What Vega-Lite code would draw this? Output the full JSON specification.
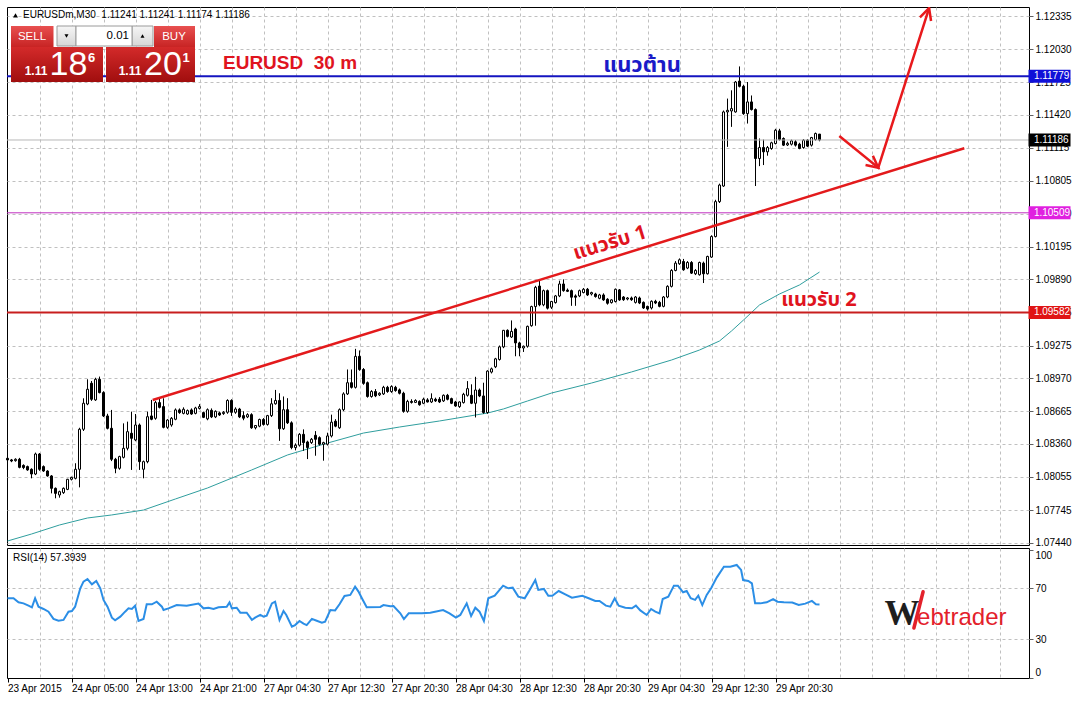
{
  "$schema": "https://vega.github.io/schema/vega-lite/v6.json",
  "background": "white",
  "padding": {"left": 5, "top": 6, "right": 0, "bottom": 0},
  "spacing": 3,
  "bounds": "flush",
  "config": {
    "view": {"stroke": "black", "strokeWidth": 1, "fill": "white"},
    "scale": {"continuousPadding": 0},
    "axis": {"labelFont": "Liberation Sans", "labelFontSize": 10, "labelColor": "black", "domain": false, "labelOverlap": false, "labelSeparation": 0},
    "text": {"font": "Liberation Sans"}
  },
  "datasets": {
    "candles": [
      {"i":0,"o":1.08226,"h":1.08235,"l":1.08195,"c":1.08211},
      {"i":1,"o":1.08211,"h":1.0822,"l":1.0819,"c":1.08201},
      {"i":2,"o":1.08204,"h":1.08226,"l":1.08195,"c":1.08217},
      {"i":3,"o":1.08217,"h":1.0823,"l":1.08133,"c":1.08142},
      {"i":4,"o":1.0816,"h":1.0817,"l":1.08125,"c":1.0814},
      {"i":5,"o":1.08149,"h":1.08158,"l":1.0811,"c":1.08118},
      {"i":6,"o":1.08124,"h":1.08133,"l":1.0804,"c":1.0808},
      {"i":7,"o":1.0808,"h":1.08279,"l":1.0807,"c":1.08266},
      {"i":8,"o":1.08266,"h":1.08275,"l":1.0811,"c":1.08124},
      {"i":9,"o":1.08149,"h":1.0816,"l":1.081,"c":1.08108},
      {"i":10,"o":1.08108,"h":1.08115,"l":1.08055,"c":1.08062},
      {"i":11,"o":1.08062,"h":1.0807,"l":1.079,"c":1.07947},
      {"i":12,"o":1.07947,"h":1.07955,"l":1.07854,"c":1.079},
      {"i":13,"o":1.07885,"h":1.07925,"l":1.0786,"c":1.07916},
      {"i":14,"o":1.07907,"h":1.07955,"l":1.07895,"c":1.07947},
      {"i":15,"o":1.07937,"h":1.08035,"l":1.0793,"c":1.08031},
      {"i":16,"o":1.08031,"h":1.08055,"l":1.0802,"c":1.08049},
      {"i":17,"o":1.0804,"h":1.0818,"l":1.0803,"c":1.08124},
      {"i":18,"o":1.08124,"h":1.0851,"l":1.07956,"c":1.08496},
      {"i":19,"o":1.08496,"h":1.08784,"l":1.0848,"c":1.08738},
      {"i":20,"o":1.08731,"h":1.08961,"l":1.0872,"c":1.08868},
      {"i":21,"o":1.08924,"h":1.08945,"l":1.0876,"c":1.08775},
      {"i":22,"o":1.08769,"h":1.08975,"l":1.0876,"c":1.08961},
      {"i":23,"o":1.08961,"h":1.08986,"l":1.0883,"c":1.08837},
      {"i":24,"o":1.08837,"h":1.0885,"l":1.0861,"c":1.0862},
      {"i":25,"o":1.0862,"h":1.0864,"l":1.08495,"c":1.08505},
      {"i":26,"o":1.08505,"h":1.08676,"l":1.082,"c":1.08217},
      {"i":27,"o":1.08217,"h":1.0823,"l":1.08087,"c":1.08133},
      {"i":28,"o":1.08133,"h":1.0825,"l":1.0812,"c":1.08242},
      {"i":29,"o":1.08235,"h":1.08551,"l":1.08225,"c":1.08319},
      {"i":30,"o":1.08319,"h":1.08567,"l":1.083,"c":1.08474},
      {"i":31,"o":1.08459,"h":1.0866,"l":1.08118,"c":1.08412},
      {"i":32,"o":1.08397,"h":1.08638,"l":1.08385,"c":1.08536},
      {"i":33,"o":1.08536,"h":1.0855,"l":1.08118,"c":1.08195},
      {"i":34,"o":1.08124,"h":1.08205,"l":1.0804,"c":1.08195},
      {"i":35,"o":1.08195,"h":1.0866,"l":1.0818,"c":1.08613},
      {"i":36,"o":1.0862,"h":1.08769,"l":1.0858,"c":1.08589},
      {"i":37,"o":1.08598,"h":1.0876,"l":1.08585,"c":1.08744},
      {"i":38,"o":1.08744,"h":1.08784,"l":1.0869,"c":1.087},
      {"i":39,"o":1.08707,"h":1.08784,"l":1.08505,"c":1.08514},
      {"i":40,"o":1.08514,"h":1.0859,"l":1.085,"c":1.08582},
      {"i":41,"o":1.08536,"h":1.0861,"l":1.0852,"c":1.08598},
      {"i":42,"o":1.08589,"h":1.0869,"l":1.0858,"c":1.08676},
      {"i":43,"o":1.08676,"h":1.0869,"l":1.0864,"c":1.08651},
      {"i":44,"o":1.08644,"h":1.087,"l":1.08635,"c":1.08682},
      {"i":45,"o":1.08638,"h":1.0868,"l":1.0863,"c":1.0867},
      {"i":46,"o":1.08676,"h":1.0869,"l":1.0863,"c":1.08638},
      {"i":47,"o":1.08644,"h":1.08705,"l":1.08635,"c":1.08694},
      {"i":48,"o":1.0869,"h":1.0873,"l":1.0868,"c":1.08707},
      {"i":49,"o":1.08651,"h":1.0866,"l":1.086,"c":1.08607},
      {"i":50,"o":1.08593,"h":1.0869,"l":1.0858,"c":1.08678},
      {"i":51,"o":1.08672,"h":1.0869,"l":1.086,"c":1.08611},
      {"i":52,"o":1.08611,"h":1.08672,"l":1.086,"c":1.08663},
      {"i":53,"o":1.08648,"h":1.0866,"l":1.0862,"c":1.08629},
      {"i":54,"o":1.08642,"h":1.08665,"l":1.0863,"c":1.08654},
      {"i":55,"o":1.08654,"h":1.08775,"l":1.0864,"c":1.08764},
      {"i":56,"o":1.08764,"h":1.08775,"l":1.0862,"c":1.08654},
      {"i":57,"o":1.08654,"h":1.087,"l":1.0864,"c":1.08684},
      {"i":58,"o":1.08684,"h":1.08695,"l":1.086,"c":1.08611},
      {"i":59,"o":1.08623,"h":1.08663,"l":1.0858,"c":1.08599},
      {"i":60,"o":1.08611,"h":1.08645,"l":1.086,"c":1.08632},
      {"i":61,"o":1.08632,"h":1.08645,"l":1.085,"c":1.0851},
      {"i":62,"o":1.0851,"h":1.08535,"l":1.08495,"c":1.08531},
      {"i":63,"o":1.08525,"h":1.08595,"l":1.08515,"c":1.08587},
      {"i":64,"o":1.08587,"h":1.086,"l":1.0853,"c":1.08541},
      {"i":65,"o":1.08541,"h":1.0863,"l":1.0853,"c":1.08623},
      {"i":66,"o":1.08623,"h":1.08785,"l":1.0861,"c":1.08733},
      {"i":67,"o":1.08733,"h":1.08862,"l":1.08725,"c":1.08764},
      {"i":68,"o":1.08764,"h":1.08831,"l":1.08388,"c":1.08501},
      {"i":69,"o":1.08501,"h":1.08801,"l":1.0849,"c":1.08678},
      {"i":70,"o":1.08678,"h":1.08785,"l":1.08545,"c":1.08556},
      {"i":71,"o":1.08556,"h":1.0857,"l":1.0831,"c":1.08326},
      {"i":72,"o":1.08326,"h":1.08365,"l":1.083,"c":1.08348},
      {"i":73,"o":1.08348,"h":1.0846,"l":1.08335,"c":1.08449},
      {"i":74,"o":1.08449,"h":1.08495,"l":1.08296,"c":1.08372},
      {"i":75,"o":1.08378,"h":1.0839,"l":1.08219,"c":1.08326},
      {"i":76,"o":1.08372,"h":1.08415,"l":1.0836,"c":1.08403},
      {"i":77,"o":1.0844,"h":1.08479,"l":1.0825,"c":1.08403},
      {"i":78,"o":1.08418,"h":1.0843,"l":1.08345,"c":1.08357},
      {"i":79,"o":1.08357,"h":1.0838,"l":1.08204,"c":1.08372},
      {"i":80,"o":1.08357,"h":1.08464,"l":1.08345,"c":1.08434},
      {"i":81,"o":1.08434,"h":1.08632,"l":1.0842,"c":1.08562},
      {"i":82,"o":1.08571,"h":1.0859,"l":1.08515,"c":1.08525},
      {"i":83,"o":1.0851,"h":1.0869,"l":1.085,"c":1.08678},
      {"i":84,"o":1.08678,"h":1.0884,"l":1.08665,"c":1.08825},
      {"i":85,"o":1.08825,"h":1.09052,"l":1.08815,"c":1.08929},
      {"i":86,"o":1.08929,"h":1.09052,"l":1.08875,"c":1.08886},
      {"i":87,"o":1.08886,"h":1.09244,"l":1.08875,"c":1.09174},
      {"i":88,"o":1.09174,"h":1.09229,"l":1.0904,"c":1.09052},
      {"i":89,"o":1.09052,"h":1.09065,"l":1.0891,"c":1.08923},
      {"i":90,"o":1.08929,"h":1.0894,"l":1.0879,"c":1.08801},
      {"i":91,"o":1.08801,"h":1.0886,"l":1.0879,"c":1.08847},
      {"i":92,"o":1.08847,"h":1.0887,"l":1.08795,"c":1.08807},
      {"i":93,"o":1.08816,"h":1.0884,"l":1.08805,"c":1.08831},
      {"i":94,"o":1.08825,"h":1.089,"l":1.08815,"c":1.08886},
      {"i":95,"o":1.08886,"h":1.089,"l":1.08835,"c":1.08847},
      {"i":96,"o":1.08847,"h":1.08905,"l":1.08835,"c":1.08893},
      {"i":97,"o":1.08886,"h":1.089,"l":1.08845,"c":1.08856},
      {"i":98,"o":1.08862,"h":1.08875,"l":1.0882,"c":1.08831},
      {"i":99,"o":1.08831,"h":1.08845,"l":1.0865,"c":1.08663},
      {"i":100,"o":1.08663,"h":1.0877,"l":1.0865,"c":1.08755},
      {"i":101,"o":1.08755,"h":1.08775,"l":1.08735,"c":1.08746},
      {"i":102,"o":1.08746,"h":1.08775,"l":1.0874,"c":1.08764},
      {"i":103,"o":1.08755,"h":1.08765,"l":1.08715,"c":1.08724},
      {"i":104,"o":1.08738,"h":1.0879,"l":1.0873,"c":1.08775},
      {"i":105,"o":1.08769,"h":1.08785,"l":1.08745,"c":1.0875},
      {"i":106,"o":1.0875,"h":1.0883,"l":1.0874,"c":1.08781},
      {"i":107,"o":1.08775,"h":1.0879,"l":1.0875,"c":1.0876},
      {"i":108,"o":1.08775,"h":1.08795,"l":1.0874,"c":1.0875},
      {"i":109,"o":1.0876,"h":1.0882,"l":1.0875,"c":1.08812},
      {"i":110,"o":1.08812,"h":1.08825,"l":1.08765,"c":1.08775},
      {"i":111,"o":1.08781,"h":1.0879,"l":1.0873,"c":1.08738},
      {"i":112,"o":1.0875,"h":1.0876,"l":1.08705,"c":1.08713},
      {"i":113,"o":1.08707,"h":1.08755,"l":1.08695,"c":1.0875},
      {"i":114,"o":1.08744,"h":1.08835,"l":1.08735,"c":1.08821},
      {"i":115,"o":1.08812,"h":1.08944,"l":1.088,"c":1.08874},
      {"i":116,"o":1.08812,"h":1.08914,"l":1.0873,"c":1.08738},
      {"i":117,"o":1.08738,"h":1.08984,"l":1.08606,"c":1.08861},
      {"i":118,"o":1.08861,"h":1.08875,"l":1.08795,"c":1.08806},
      {"i":119,"o":1.08806,"h":1.08929,"l":1.0864,"c":1.08652},
      {"i":120,"o":1.08652,"h":1.09045,"l":1.0864,"c":1.09037},
      {"i":121,"o":1.09028,"h":1.0907,"l":1.09015,"c":1.09058},
      {"i":122,"o":1.09077,"h":1.0916,"l":1.09065,"c":1.09151},
      {"i":123,"o":1.09145,"h":1.09275,"l":1.09135,"c":1.09262},
      {"i":124,"o":1.09262,"h":1.0942,"l":1.0925,"c":1.09416},
      {"i":125,"o":1.09416,"h":1.09425,"l":1.0935,"c":1.0936},
      {"i":126,"o":1.09354,"h":1.09508,"l":1.09345,"c":1.09406},
      {"i":127,"o":1.09428,"h":1.0944,"l":1.09175,"c":1.09299},
      {"i":128,"o":1.09299,"h":1.0931,"l":1.09175,"c":1.09252},
      {"i":129,"o":1.09252,"h":1.09275,"l":1.09215,"c":1.09268},
      {"i":130,"o":1.09268,"h":1.0946,"l":1.09255,"c":1.09453},
      {"i":131,"o":1.09459,"h":1.09645,"l":1.0945,"c":1.09637},
      {"i":132,"o":1.09637,"h":1.0983,"l":1.09459,"c":1.09816},
      {"i":133,"o":1.09828,"h":1.09878,"l":1.0964,"c":1.09653},
      {"i":134,"o":1.09653,"h":1.09795,"l":1.0964,"c":1.09785},
      {"i":135,"o":1.09785,"h":1.09795,"l":1.0961,"c":1.09622},
      {"i":136,"o":1.09631,"h":1.0969,"l":1.09615,"c":1.09684},
      {"i":137,"o":1.09674,"h":1.09745,"l":1.09665,"c":1.09736},
      {"i":138,"o":1.09736,"h":1.09878,"l":1.09725,"c":1.09847},
      {"i":139,"o":1.09847,"h":1.0989,"l":1.09775,"c":1.09785},
      {"i":140,"o":1.0979,"h":1.09805,"l":1.09772,"c":1.09779},
      {"i":141,"o":1.09785,"h":1.09795,"l":1.09644,"c":1.09724},
      {"i":142,"o":1.09736,"h":1.0975,"l":1.09644,"c":1.09724},
      {"i":143,"o":1.09736,"h":1.09795,"l":1.09725,"c":1.09785},
      {"i":144,"o":1.09767,"h":1.0981,"l":1.0976,"c":1.09798},
      {"i":145,"o":1.09798,"h":1.0981,"l":1.09735,"c":1.09745},
      {"i":146,"o":1.09754,"h":1.09775,"l":1.0974,"c":1.09767},
      {"i":147,"o":1.09754,"h":1.09765,"l":1.0972,"c":1.0973},
      {"i":148,"o":1.09714,"h":1.09755,"l":1.09705,"c":1.09745},
      {"i":149,"o":1.09745,"h":1.0976,"l":1.0969,"c":1.09699},
      {"i":150,"o":1.09705,"h":1.09715,"l":1.09655,"c":1.09668},
      {"i":151,"o":1.09674,"h":1.09705,"l":1.09665,"c":1.09699},
      {"i":152,"o":1.09684,"h":1.09805,"l":1.09675,"c":1.09798},
      {"i":153,"o":1.09792,"h":1.098,"l":1.0969,"c":1.09699},
      {"i":154,"o":1.09726,"h":1.09735,"l":1.0969,"c":1.09701},
      {"i":155,"o":1.09707,"h":1.09725,"l":1.09695,"c":1.09717},
      {"i":156,"o":1.09717,"h":1.0973,"l":1.0969,"c":1.09701},
      {"i":157,"o":1.09676,"h":1.09735,"l":1.09665,"c":1.09726},
      {"i":158,"o":1.09717,"h":1.0973,"l":1.0966,"c":1.0967},
      {"i":159,"o":1.09676,"h":1.09685,"l":1.09615,"c":1.09624},
      {"i":160,"o":1.09639,"h":1.09645,"l":1.096,"c":1.09615},
      {"i":161,"o":1.09624,"h":1.09695,"l":1.0961,"c":1.09686},
      {"i":162,"o":1.09686,"h":1.097,"l":1.0966,"c":1.0967},
      {"i":163,"o":1.09676,"h":1.0969,"l":1.0963,"c":1.09639},
      {"i":164,"o":1.09639,"h":1.09735,"l":1.0963,"c":1.09726},
      {"i":165,"o":1.09726,"h":1.09835,"l":1.09715,"c":1.09825},
      {"i":166,"o":1.09825,"h":1.09985,"l":1.09815,"c":1.09973},
      {"i":167,"o":1.09973,"h":1.1006,"l":1.09965,"c":1.10041},
      {"i":168,"o":1.10035,"h":1.10085,"l":1.10025,"c":1.10072},
      {"i":169,"o":1.10056,"h":1.1008,"l":1.0997,"c":1.09979},
      {"i":170,"o":1.09995,"h":1.1006,"l":1.09985,"c":1.10047},
      {"i":171,"o":1.10047,"h":1.1006,"l":1.0994,"c":1.09948},
      {"i":172,"o":1.09942,"h":1.09985,"l":1.0993,"c":1.09973},
      {"i":173,"o":1.09933,"h":1.10055,"l":1.09925,"c":1.10047},
      {"i":174,"o":1.10041,"h":1.10055,"l":1.09856,"c":1.09942},
      {"i":175,"o":1.09942,"h":1.1011,"l":1.09935,"c":1.10103},
      {"i":176,"o":1.10097,"h":1.103,"l":1.1009,"c":1.10288},
      {"i":177,"o":1.10288,"h":1.1063,"l":1.1028,"c":1.10613},
      {"i":178,"o":1.10613,"h":1.1078,"l":1.106,"c":1.10767},
      {"i":179,"o":1.10758,"h":1.1146,"l":1.1075,"c":1.11447},
      {"i":180,"o":1.11447,"h":1.11571,"l":1.11122,"c":1.11462},
      {"i":181,"o":1.11456,"h":1.11648,"l":1.11308,"c":1.11478},
      {"i":182,"o":1.11447,"h":1.11735,"l":1.1144,"c":1.11725},
      {"i":183,"o":1.11734,"h":1.1187,"l":1.11675,"c":1.11685},
      {"i":184,"o":1.11685,"h":1.117,"l":1.1142,"c":1.11431},
      {"i":185,"o":1.11431,"h":1.11725,"l":1.11339,"c":1.1154},
      {"i":186,"o":1.1154,"h":1.116,"l":1.1146,"c":1.11469},
      {"i":187,"o":1.11469,"h":1.1148,"l":1.10758,"c":1.11014},
      {"i":188,"o":1.11014,"h":1.112,"l":1.10943,"c":1.11116},
      {"i":189,"o":1.11116,"h":1.1119,"l":1.10953,"c":1.11076},
      {"i":190,"o":1.11076,"h":1.1113,"l":1.1104,"c":1.11116},
      {"i":191,"o":1.11107,"h":1.1117,"l":1.11095,"c":1.1116},
      {"i":192,"o":1.11153,"h":1.1129,"l":1.11145,"c":1.11277},
      {"i":193,"o":1.11271,"h":1.1129,"l":1.1118,"c":1.1119},
      {"i":194,"o":1.112,"h":1.1121,"l":1.1113,"c":1.11138},
      {"i":195,"o":1.1114,"h":1.1117,"l":1.1113,"c":1.11155},
      {"i":196,"o":1.11147,"h":1.1119,"l":1.11135,"c":1.11178},
      {"i":197,"o":1.11169,"h":1.11185,"l":1.11125,"c":1.11138},
      {"i":198,"o":1.11147,"h":1.1116,"l":1.111,"c":1.11107},
      {"i":199,"o":1.11116,"h":1.11195,"l":1.11105,"c":1.11184},
      {"i":200,"o":1.11184,"h":1.11195,"l":1.1112,"c":1.11129},
      {"i":201,"o":1.11138,"h":1.11215,"l":1.11125,"c":1.11209},
      {"i":202,"o":1.1119,"h":1.11255,"l":1.1118,"c":1.11246},
      {"i":203,"o":1.11241,"h":1.11241,"l":1.11174,"c":1.11186}
    ],
    "ma": [
      {"i":0,"p":1.07457},{"i":6,"p":1.07522},{"i":13,"p":1.07606},{"i":20,"p":1.07671},{"i":26,"p":1.07699},
      {"i":34,"p":1.07745},{"i":42,"p":1.07848},{"i":50,"p":1.0795},{"i":61,"p":1.08117},{"i":70,"p":1.08257},
      {"i":80,"p":1.08368},{"i":89,"p":1.08461},{"i":98,"p":1.08517},{"i":108,"p":1.08573},{"i":120,"p":1.08647},
      {"i":124,"p":1.08685},{"i":130,"p":1.08759},{"i":136,"p":1.08833},{"i":146,"p":1.08926},{"i":156,"p":1.09029},
      {"i":166,"p":1.0914},{"i":173,"p":1.09233},{"i":178,"p":1.09317},{"i":181,"p":1.0941},{"i":184,"p":1.09512},
      {"i":188,"p":1.09652},{"i":193,"p":1.09754},{"i":198,"p":1.09838},{"i":203,"p":1.09958}
    ],
    "rsi": [
      {"i":0,"v":62.2},{"i":1.5,"v":62.2},{"i":2.75,"v":59.0},{"i":4,"v":58.2},{"i":5.25,"v":56.4},{"i":6.1,"v":55.1},
      {"i":6.9,"v":62.2},{"i":7.75,"v":55.6},{"i":9,"v":53.8},{"i":10.25,"v":51.7},{"i":11.5,"v":46.0},{"i":12.75,"v":44.6},
      {"i":14,"v":45.2},{"i":15.25,"v":51.7},{"i":16.1,"v":52.2},{"i":16.9,"v":55.6},{"i":18.2,"v":70.0},{"i":19,"v":75.2},
      {"i":20,"v":77.3},{"i":21.1,"v":73.1},{"i":22.2,"v":75.8},{"i":23.2,"v":70.0},{"i":24,"v":60.9},{"i":25,"v":55.6},
      {"i":26.1,"v":47.0},{"i":26.9,"v":44.9},{"i":28.2,"v":47.8},{"i":29.4,"v":51.7},{"i":30.25,"v":54.3},{"i":31.1,"v":53.8},
      {"i":31.9,"v":56.4},{"i":32.75,"v":44.4},{"i":34,"v":46.0},{"i":34.8,"v":57.5},{"i":36.1,"v":57.5},{"i":37.3,"v":59.5},
      {"i":38.6,"v":55.6},{"i":39,"v":53.0},{"i":40.25,"v":54.3},{"i":42.3,"v":56.9},{"i":44.8,"v":56.4},{"i":47.75,"v":58.0},
      {"i":49,"v":54.3},{"i":50.25,"v":54.8},{"i":51.5,"v":53.8},{"i":52.75,"v":55.1},{"i":54.8,"v":55.6},{"i":55.5,"v":59.0},
      {"i":56.1,"v":54.3},{"i":57.3,"v":54.8},{"i":58.2,"v":50.9},{"i":59.8,"v":50.9},{"i":61.1,"v":45.2},{"i":61.9,"v":47.0},
      {"i":63.2,"v":49.1},{"i":64,"v":47.8},{"i":64.8,"v":48.6},{"i":66.1,"v":58.2},{"i":66.9,"v":59.5},{"i":68,"v":45.2},
      {"i":69,"v":52.2},{"i":69.7,"v":49.1},{"i":71.1,"v":39.9},{"i":71.9,"v":41.2},{"i":73,"v":44.4},{"i":74,"v":42.3},
      {"i":74.8,"v":41.2},{"i":76.1,"v":46.0},{"i":77.3,"v":44.6},{"i":78.6,"v":43.1},{"i":79.4,"v":43.9},{"i":80.7,"v":53.0},
      {"i":81.9,"v":52.7},{"i":83,"v":57.5},{"i":84.25,"v":64.0},{"i":85.7,"v":64.8},{"i":86.9,"v":71.3},{"i":87.75,"v":67.4},
      {"i":88.6,"v":62.2},{"i":89.8,"v":55.1},{"i":93.2,"v":55.4},{"i":94,"v":56.9},{"i":95.7,"v":55.9},{"i":96.5,"v":56.1},
      {"i":98.2,"v":50.4},{"i":99.1,"v":45.9},{"i":100.3,"v":50.4},{"i":103.6,"v":50.4},{"i":105.7,"v":50.9},{"i":108.9,"v":53.0},
      {"i":110.5,"v":50.4},{"i":112.1,"v":47.0},{"i":113.2,"v":49.1},{"i":114.8,"v":58.2},{"i":115.9,"v":48.3},{"i":116.95,"v":54.8},
      {"i":118,"v":51.7},{"i":119.1,"v":44.4},{"i":120.2,"v":62.2},{"i":121.8,"v":64.2},{"i":123.9,"v":72.1},{"i":125.2,"v":70.0},
      {"i":126.3,"v":70.5},{"i":127.7,"v":63.5},{"i":129.3,"v":62.2},{"i":130.3,"v":67.4},{"i":131.95,"v":76.5},{"i":132.7,"v":68.7},
      {"i":134.1,"v":69.5},{"i":135.2,"v":64.2},{"i":136.2,"v":64.2},{"i":137.8,"v":67.9},{"i":139.45,"v":65.3},{"i":141.1,"v":62.7},
      {"i":143.7,"v":64.2},{"i":145.3,"v":62.2},{"i":146.95,"v":60.1},{"i":148,"v":60.1},{"i":149.6,"v":56.4},{"i":150.7,"v":55.6},
      {"i":151.8,"v":62.2},{"i":152.8,"v":56.4},{"i":154.45,"v":54.8},{"i":156.1,"v":54.3},{"i":157.1,"v":56.4},{"i":158.2,"v":52.7},
      {"i":159.8,"v":49.1},{"i":160.9,"v":53.8},{"i":161.95,"v":51.7},{"i":163,"v":50.4},{"i":163.8,"v":61.6},{"i":165.2,"v":63.5},
      {"i":166.6,"v":72.1},{"i":167.6,"v":72.1},{"i":168.9,"v":66.9},{"i":169.8,"v":67.9},{"i":170.8,"v":62.2},{"i":171.9,"v":60.9},
      {"i":172.7,"v":64.2},{"i":173.7,"v":56.9},{"i":174.8,"v":64.8},{"i":175.9,"v":70.0},{"i":177.3,"v":78.4},{"i":179.1,"v":87.0},
      {"i":180.7,"v":87.0},{"i":182.3,"v":88.3},{"i":183.4,"v":84.4},{"i":183.9,"v":76.5},{"i":185.2,"v":75.8},{"i":186.1,"v":73.9},
      {"i":186.9,"v":58.2},{"i":188.2,"v":58.2},{"i":189.8,"v":59.0},{"i":191.4,"v":61.6},{"i":192.5,"v":59.5},{"i":194.1,"v":59.0},
      {"i":196.2,"v":58.8},{"i":197.8,"v":56.9},{"i":199.45,"v":58.0},{"i":201.1,"v":60.1},{"i":202.1,"v":57.5},{"i":203,"v":57.4}
    ],
    "levels": [
      {"name":"res","p":1.11779},
      {"name":"bid","p":1.11186},
      {"name":"s1","p":1.10509},
      {"name":"s2","p":1.09582}
    ],
    "trend": [{"i":36.3,"p":1.08768},{"i":239.2,"p":1.11109}],
    "arrow": [{"k":0,"i":207.95,"p":1.11223},{"k":1,"i":217.7,"p":1.10928},{"k":2,"i":230.4,"p":1.12413}],
    "widget": [
      {"part":"sell","i1":0.875,"i2":11.5,"p1":1.12051,"p2":1.12246},
      {"part":"buy","i1":36.625,"i2":46.875,"p1":1.12051,"p2":1.12246},
      {"part":"bidbox","i1":0.875,"i2":23.875,"p1":1.11725,"p2":1.12051},
      {"part":"askbox","i1":24.625,"i2":46.875,"p1":1.11725,"p2":1.12051},
      {"part":"down","i1":12.375,"i2":17.125,"p1":1.1206,"p2":1.12246},
      {"part":"lot","i1":17.125,"i2":31.125,"p1":1.1206,"p2":1.12246},
      {"part":"up","i1":31.125,"i2":36.375,"p1":1.1206,"p2":1.12246}
    ]
  },
  "vconcat": [
    {
      "width": 1022,
      "height": 538,
      "layer": [
        {
          "data": {"name": "ma"},
          "mark": {"type": "line", "color": "#2f9e9e", "strokeWidth": 1, "clip": true},
          "encoding": {
            "x": {"field": "i", "type": "quantitative", "scale": {"domain": [-0.125, 255.375], "nice": false, "zero": false, "padding": 0},
              "axis": {"orient": "bottom", "values": [8,16,24,32,40,48,56,64,72,80,88,96,104,112,120,128,136,144,152,160,168,176,184,192,200,208,216,224,232,240,248], "tickCount": 60, "labels": false, "ticks": false, "domain": false, "grid": true, "gridDash": [3,3], "gridColor": "#c0c0c0", "title": null}},
            "y": {"field": "p", "type": "quantitative", "scale": {"domain": [1.074199, 1.124227], "nice": false, "zero": false, "padding": 0},
              "axis": {"orient": "right", "values": [1.0744,1.07745,1.08055,1.0836,1.08665,1.0897,1.09275,1.09585,1.0989,1.10195,1.105,1.10805,1.11115,1.1142,1.11725,1.1203,1.12335], "tickCount": 40, "format": ".5f", "grid": true, "gridDash": [3,3], "gridColor": "#c0c0c0", "tickSize": 4, "tickColor": "#606060", "labelPadding": 2, "labelOverlap": false, "labelBound": false, "domain": false, "title": null, "labelFontSize": 10, "labelColor": "black", "labelFont": "Liberation Sans"}}
          }
        },
        {
          "data": {"name": "candles"},
          "mark": {"type": "rule", "color": "black", "strokeWidth": 1},
          "encoding": {
            "x": {"field": "i", "type": "quantitative", "scale": {"domain": [-0.125, 255.375], "nice": false, "zero": false, "padding": 0}},
            "y": {"field": "l", "type": "quantitative", "scale": {"domain": [1.074199, 1.124227], "nice": false, "zero": false, "padding": 0}},
            "y2": {"field": "h"}
          }
        },
        {
          "data": {"name": "candles"},
          "mark": {"type": "bar", "orient": "vertical", "width": 2, "stroke": "black", "strokeWidth": 1},
          "encoding": {
            "x": {"field": "i", "type": "quantitative", "scale": {"domain": [-0.125, 255.375], "nice": false, "zero": false, "padding": 0}},
            "y": {"field": "o", "type": "quantitative", "scale": {"domain": [1.074199, 1.124227], "nice": false, "zero": false, "padding": 0}},
            "y2": {"field": "c"},
            "fill": {"condition": {"test": "datum.c >= datum.o", "value": "white"}, "value": "black"}
          }
        },
        {
          "data": {"name": "levels"},
          "transform": [{"filter": "datum.name === 'res' || datum.name === 's2'"}],
          "mark": {"type": "rule", "strokeWidth": 2},
          "encoding": {
            "y": {"field": "p", "type": "quantitative", "scale": {"domain": [1.074199, 1.124227], "nice": false, "zero": false, "padding": 0}},
            "stroke": {"field": "name", "type": "nominal", "scale": {"domain": ["res","bid","s1","s2"], "range": ["#1414c0","#b8b8b8","#c030c0","#c81e1e"]}, "legend": null}
          }
        },
        {
          "data": {"name": "levels"},
          "transform": [{"filter": "datum.name === 'bid' || datum.name === 's1'"}],
          "mark": {"type": "rule", "strokeWidth": 1},
          "encoding": {
            "y": {"field": "p", "type": "quantitative", "scale": {"domain": [1.074199, 1.124227], "nice": false, "zero": false, "padding": 0}},
            "stroke": {"field": "name", "type": "nominal", "scale": {"domain": ["res","bid","s1","s2"], "range": ["#1414c0","#b8b8b8","#c030c0","#c81e1e"]}, "legend": null}
          }
        },
        {
          "data": {"name": "trend"},
          "mark": {"type": "line", "color": "#e31a1c", "strokeWidth": 2.5},
          "encoding": {
            "x": {"field": "i", "type": "quantitative", "scale": {"domain": [-0.125, 255.375], "nice": false, "zero": false, "padding": 0}},
            "y": {"field": "p", "type": "quantitative", "scale": {"domain": [1.074199, 1.124227], "nice": false, "zero": false, "padding": 0}}
          }
        },
        {
          "data": {"name": "arrow"},
          "mark": {"type": "line", "color": "#e8191c", "strokeWidth": 2.5, "strokeJoin": "miter", "clip": true},
          "encoding": {
            "x": {"field": "i", "type": "quantitative", "scale": {"domain": [-0.125, 255.375], "nice": false, "zero": false, "padding": 0}},
            "y": {"field": "p", "type": "quantitative", "scale": {"domain": [1.074199, 1.124227], "nice": false, "zero": false, "padding": 0}},
            "order": {"field": "k"}
          }
        },
        {
          "data": {"name": "arrow"},
          "transform": [{"filter": "datum.k === 1"}],
          "mark": {"type": "point", "shape": "M-0.6,1.2L0,0L0.6,1.2", "filled": false, "stroke": "#e8191c", "strokeWidth": 2.5, "size": 380, "angle": 129, "opacity": 1, "clip": true},
          "encoding": {
            "x": {"field": "i", "type": "quantitative", "scale": {"domain": [-0.125, 255.375], "nice": false, "zero": false, "padding": 0}},
            "y": {"field": "p", "type": "quantitative", "scale": {"domain": [1.074199, 1.124227], "nice": false, "zero": false, "padding": 0}}
          }
        },
        {
          "data": {"name": "arrow"},
          "transform": [{"filter": "datum.k === 2"}],
          "mark": {"type": "point", "shape": "M-0.6,1.2L0,0L0.6,1.2", "filled": false, "stroke": "#e8191c", "strokeWidth": 2.5, "size": 380, "angle": 18, "opacity": 1, "clip": true},
          "encoding": {
            "x": {"field": "i", "type": "quantitative", "scale": {"domain": [-0.125, 255.375], "nice": false, "zero": false, "padding": 0}},
            "y": {"field": "p", "type": "quantitative", "scale": {"domain": [1.074199, 1.124227], "nice": false, "zero": false, "padding": 0}}
          }
        },
        {
          "data": {"values": [{"t": "EURUSD\u00a0 30 m", "i": 53.875, "p": 1.11846}]},
          "mark": {"type": "text", "align": "left", "baseline": "alphabetic", "fontSize": 19, "fontWeight": "bold", "color": "#e0141e", "font": "Liberation Sans"},
          "encoding": {
            "x": {"field": "i", "type": "quantitative", "scale": {"domain": [-0.125, 255.375], "nice": false, "zero": false, "padding": 0}},
            "y": {"field": "p", "type": "quantitative", "scale": {"domain": [1.074199, 1.124227], "nice": false, "zero": false, "padding": 0}},
            "text": {"field": "t"}
          }
        },
        {
          "data": {"values": [{"t": "แนวต้าน", "i": 158.625, "p": 1.11818}]},
          "mark": {"type": "text", "align": "center", "baseline": "alphabetic", "fontSize": 22, "fontWeight": "bold", "color": "#1a1ac8", "font": "Noto Sans Thai, Noto Sans, DejaVu Sans, sans-serif"},
          "encoding": {
            "x": {"field": "i", "type": "quantitative", "scale": {"domain": [-0.125, 255.375], "nice": false, "zero": false, "padding": 0}},
            "y": {"field": "p", "type": "quantitative", "scale": {"domain": [1.074199, 1.124227], "nice": false, "zero": false, "padding": 0}},
            "text": {"field": "t"}
          }
        },
        {
          "data": {"values": [{"t": "แนวรับ 1", "i": 150.625, "p": 1.10228}]},
          "mark": {"type": "text", "align": "center", "baseline": "middle", "fontSize": 20, "fontWeight": "bold", "color": "#e0141e", "angle": 343, "font": "Noto Sans Thai, Noto Sans, DejaVu Sans, sans-serif"},
          "encoding": {
            "x": {"field": "i", "type": "quantitative", "scale": {"domain": [-0.125, 255.375], "nice": false, "zero": false, "padding": 0}},
            "y": {"field": "p", "type": "quantitative", "scale": {"domain": [1.074199, 1.124227], "nice": false, "zero": false, "padding": 0}},
            "text": {"field": "t"}
          }
        },
        {
          "data": {"values": [{"t": "แนวรับ 2", "i": 202.875, "p": 1.09698}]},
          "mark": {"type": "text", "align": "center", "baseline": "middle", "fontSize": 20, "fontWeight": "bold", "color": "#e0141e", "font": "Noto Sans Thai, Noto Sans, DejaVu Sans, sans-serif"},
          "encoding": {
            "x": {"field": "i", "type": "quantitative", "scale": {"domain": [-0.125, 255.375], "nice": false, "zero": false, "padding": 0}},
            "y": {"field": "p", "type": "quantitative", "scale": {"domain": [1.074199, 1.124227], "nice": false, "zero": false, "padding": 0}},
            "text": {"field": "t"}
          }
        },
        {
          "data": {"values": [{"i": 2.0, "p": 1.12344}]},
          "mark": {"type": "point", "shape": "triangle-up", "filled": true, "color": "black", "size": 24, "opacity": 1},
          "encoding": {
            "x": {"field": "i", "type": "quantitative", "scale": {"domain": [-0.125, 255.375], "nice": false, "zero": false, "padding": 0}},
            "y": {"field": "p", "type": "quantitative", "scale": {"domain": [1.074199, 1.124227], "nice": false, "zero": false, "padding": 0}}
          }
        },
        {
          "data": {"values": [{"t": "EURUSDm,M30\u00a0 1.11241 1.11241 1.11174 1.11186", "i": 3.875, "p": 1.12344}]},
          "mark": {"type": "text", "align": "left", "baseline": "middle", "fontSize": 10, "color": "black", "font": "Liberation Sans"},
          "encoding": {
            "x": {"field": "i", "type": "quantitative", "scale": {"domain": [-0.125, 255.375], "nice": false, "zero": false, "padding": 0}},
            "y": {"field": "p", "type": "quantitative", "scale": {"domain": [1.074199, 1.124227], "nice": false, "zero": false, "padding": 0}},
            "text": {"field": "t"}
          }
        },
        {
          "data": {"name": "widget"},
          "transform": [{"filter": "datum.part === 'sell' || datum.part === 'buy'"}],
          "mark": {"type": "rect", "fill": {"gradient": "linear", "x1": 0, "y1": 0, "x2": 0, "y2": 1, "stops": [{"offset": 0, "color": "#e85050"}, {"offset": 1, "color": "#c82424"}]}},
          "encoding": {
            "x": {"field": "i1", "type": "quantitative", "scale": {"domain": [-0.125, 255.375], "nice": false, "zero": false, "padding": 0}},
            "x2": {"field": "i2"},
            "y": {"field": "p1", "type": "quantitative", "scale": {"domain": [1.074199, 1.124227], "nice": false, "zero": false, "padding": 0}},
            "y2": {"field": "p2"}
          }
        },
        {
          "data": {"name": "widget"},
          "transform": [{"filter": "datum.part === 'bidbox' || datum.part === 'askbox'"}],
          "mark": {"type": "rect", "fill": {"gradient": "linear", "x1": 0, "y1": 0, "x2": 0, "y2": 1, "stops": [{"offset": 0, "color": "#d42a2a"}, {"offset": 1, "color": "#a00e0e"}]}},
          "encoding": {
            "x": {"field": "i1", "type": "quantitative", "scale": {"domain": [-0.125, 255.375], "nice": false, "zero": false, "padding": 0}},
            "x2": {"field": "i2"},
            "y": {"field": "p1", "type": "quantitative", "scale": {"domain": [1.074199, 1.124227], "nice": false, "zero": false, "padding": 0}},
            "y2": {"field": "p2"}
          }
        },
        {
          "data": {"name": "widget"},
          "transform": [{"filter": "datum.part === 'down' || datum.part === 'up'"}],
          "mark": {"type": "rect", "stroke": "#9a9a9a", "strokeWidth": 1, "fill": {"gradient": "linear", "x1": 0, "y1": 0, "x2": 0, "y2": 1, "stops": [{"offset": 0, "color": "#f6f6f6"}, {"offset": 1, "color": "#d6d6d6"}]}},
          "encoding": {
            "x": {"field": "i1", "type": "quantitative", "scale": {"domain": [-0.125, 255.375], "nice": false, "zero": false, "padding": 0}},
            "x2": {"field": "i2"},
            "y": {"field": "p1", "type": "quantitative", "scale": {"domain": [1.074199, 1.124227], "nice": false, "zero": false, "padding": 0}},
            "y2": {"field": "p2"}
          }
        },
        {
          "data": {"name": "widget"},
          "transform": [{"filter": "datum.part === 'lot'"}],
          "mark": {"type": "rect", "stroke": "#9a9a9a", "strokeWidth": 1, "fill": "white"},
          "encoding": {
            "x": {"field": "i1", "type": "quantitative", "scale": {"domain": [-0.125, 255.375], "nice": false, "zero": false, "padding": 0}},
            "x2": {"field": "i2"},
            "y": {"field": "p1", "type": "quantitative", "scale": {"domain": [1.074199, 1.124227], "nice": false, "zero": false, "padding": 0}},
            "y2": {"field": "p2"}
          }
        },
        {
          "data": {"values": [{"t": "SELL", "i": 6.125, "p": 1.12148}, {"t": "BUY", "i": 41.625, "p": 1.12148}]},
          "mark": {"type": "text", "align": "center", "baseline": "middle", "fontSize": 11.5, "color": "white", "font": "Liberation Sans"},
          "encoding": {
            "x": {"field": "i", "type": "quantitative", "scale": {"domain": [-0.125, 255.375], "nice": false, "zero": false, "padding": 0}},
            "y": {"field": "p", "type": "quantitative", "scale": {"domain": [1.074199, 1.124227], "nice": false, "zero": false, "padding": 0}},
            "text": {"field": "t"}
          }
        },
        {
          "data": {"values": [{"t": "0.01", "i": 30.375, "p": 1.12153}]},
          "mark": {"type": "text", "align": "right", "baseline": "middle", "fontSize": 11.5, "color": "black", "font": "Liberation Sans"},
          "encoding": {
            "x": {"field": "i", "type": "quantitative", "scale": {"domain": [-0.125, 255.375], "nice": false, "zero": false, "padding": 0}},
            "y": {"field": "p", "type": "quantitative", "scale": {"domain": [1.074199, 1.124227], "nice": false, "zero": false, "padding": 0}},
            "text": {"field": "t"}
          }
        },
        {
          "data": {"values": [{"i": 14.75, "p": 1.12153}]},
          "mark": {"type": "point", "shape": "triangle-down", "filled": true, "color": "black", "size": 16, "opacity": 1},
          "encoding": {
            "x": {"field": "i", "type": "quantitative", "scale": {"domain": [-0.125, 255.375], "nice": false, "zero": false, "padding": 0}},
            "y": {"field": "p", "type": "quantitative", "scale": {"domain": [1.074199, 1.124227], "nice": false, "zero": false, "padding": 0}}
          }
        },
        {
          "data": {"values": [{"i": 33.75, "p": 1.12153}]},
          "mark": {"type": "point", "shape": "triangle-up", "filled": true, "color": "black", "size": 16, "opacity": 1},
          "encoding": {
            "x": {"field": "i", "type": "quantitative", "scale": {"domain": [-0.125, 255.375], "nice": false, "zero": false, "padding": 0}},
            "y": {"field": "p", "type": "quantitative", "scale": {"domain": [1.074199, 1.124227], "nice": false, "zero": false, "padding": 0}}
          }
        },
        {
          "data": {"values": [{"t": "1.11", "i": 7.125, "p": 1.11786}, {"t": "1.11", "i": 30.625, "p": 1.11786}]},
          "mark": {"type": "text", "align": "center", "baseline": "alphabetic", "fontSize": 12, "fontWeight": "bold", "color": "white", "font": "Liberation Sans"},
          "encoding": {
            "x": {"field": "i", "type": "quantitative", "scale": {"domain": [-0.125, 255.375], "nice": false, "zero": false, "padding": 0}},
            "y": {"field": "p", "type": "quantitative", "scale": {"domain": [1.074199, 1.124227], "nice": false, "zero": false, "padding": 0}},
            "text": {"field": "t"}
          }
        },
        {
          "data": {"values": [{"t": "18", "i": 15.25, "p": 1.11786}, {"t": "20", "i": 38.875, "p": 1.11786}]},
          "mark": {"type": "text", "align": "center", "baseline": "alphabetic", "fontSize": 34, "color": "white", "font": "Liberation Sans"},
          "encoding": {
            "x": {"field": "i", "type": "quantitative", "scale": {"domain": [-0.125, 255.375], "nice": false, "zero": false, "padding": 0}},
            "y": {"field": "p", "type": "quantitative", "scale": {"domain": [1.074199, 1.124227], "nice": false, "zero": false, "padding": 0}},
            "text": {"field": "t"}
          }
        },
        {
          "data": {"values": [{"t": "6", "i": 21.0, "p": 1.11911}, {"t": "1", "i": 44.625, "p": 1.11911}]},
          "mark": {"type": "text", "align": "center", "baseline": "alphabetic", "fontSize": 13, "fontWeight": "bold", "color": "white", "font": "Liberation Sans"},
          "encoding": {
            "x": {"field": "i", "type": "quantitative", "scale": {"domain": [-0.125, 255.375], "nice": false, "zero": false, "padding": 0}},
            "y": {"field": "p", "type": "quantitative", "scale": {"domain": [1.074199, 1.124227], "nice": false, "zero": false, "padding": 0}},
            "text": {"field": "t"}
          }
        },
        {
          "data": {"name": "levels"},
          "mark": {"type": "bar", "orient": "horizontal", "height": 13},
          "encoding": {
            "x": {"datum": 255.25, "type": "quantitative", "scale": {"domain": [-0.125, 255.375], "nice": false, "zero": false, "padding": 0}},
            "x2": {"datum": 265.75},
            "y": {"field": "p", "type": "quantitative", "scale": {"domain": [1.074199, 1.124227], "nice": false, "zero": false, "padding": 0}},
            "fill": {"field": "name", "type": "nominal", "scale": {"domain": ["res","bid","s1","s2"], "range": ["#1010d8","#000000","#e020e0","#e01414"]}, "legend": null}
          }
        },
        {
          "data": {"name": "levels"},
          "mark": {"type": "text", "align": "left", "baseline": "middle", "fontSize": 10, "color": "white", "font": "Liberation Sans"},
          "encoding": {
            "x": {"datum": 256.6, "type": "quantitative", "scale": {"domain": [-0.125, 255.375], "nice": false, "zero": false, "padding": 0}},
            "y": {"field": "p", "type": "quantitative", "scale": {"domain": [1.074199, 1.124227], "nice": false, "zero": false, "padding": 0}},
            "text": {"field": "p", "type": "quantitative", "format": ".5f"}
          }
        }
      ]
    },
    {
      "width": 1022,
      "height": 130,
      "layer": [
        {
          "data": {"name": "rsi"},
          "mark": {"type": "line", "color": "#2b8ee6", "strokeWidth": 2, "clip": true},
          "encoding": {
            "x": {"field": "i", "type": "quantitative", "scale": {"domain": [-0.125, 255.375], "nice": false, "zero": false, "padding": 0},
              "axis": {"orient": "bottom", "values": [0,8,16,24,32,40,48,56,64,72,80,88,96,104,112,120,128,136,144,152,160,168,176,184,192,200,208,216,224,232,240,248],
                "tickCount": 60,
                "grid": true, "gridDash": [3,3],
                "gridColor": {"condition": {"test": "datum.value === 0", "value": "transparent"}, "value": "#c0c0c0"},
                "tickSize": 4,
                "tickColor": {"condition": {"test": "datum.value % 16 === 0 && datum.value <= 192", "value": "black"}, "value": "transparent"},
                "labelExpr": "datum.value % 16 === 0 && datum.value <= 192 ? ['23 Apr 2015','24 Apr 05:00','24 Apr 13:00','24 Apr 21:00','27 Apr 04:30','27 Apr 12:30','27 Apr 20:30','28 Apr 04:30','28 Apr 12:30','28 Apr 20:30','29 Apr 04:30','29 Apr 12:30','29 Apr 20:30'][datum.value / 16] : ''",
                "labelAlign": "left", "labelPadding": 1, "labelFlush": false, "labelOverlap": false, "labelBound": false,
                "labelFontSize": 10, "labelColor": "black", "labelFont": "Liberation Sans", "domain": false, "title": null}},
            "y": {"field": "v", "type": "quantitative", "scale": {"domain": [-0.3, 101.6], "nice": false, "zero": false, "padding": 0},
              "axis": {"orient": "right", "values": [0, 30, 70, 100], "tickCount": 10, "grid": true, "gridDash": [3,3],
                "gridColor": {"condition": {"test": "datum.value === 30 || datum.value === 70", "value": "#c0c0c0"}, "value": "transparent"},
                "tickSize": 4, "tickColor": "#606060", "labelPadding": 2, "labelFlush": 6, "labelOverlap": false, "domain": false, "title": null,
                "labelFontSize": 10, "labelColor": "black", "labelFont": "Liberation Sans"}}
          }
        },
        {
          "data": {"values": [{"t": "RSI(14) 57.3939", "i": 1.375, "v": 94.0}]},
          "mark": {"type": "text", "align": "left", "baseline": "middle", "fontSize": 10, "color": "black", "font": "Liberation Sans"},
          "encoding": {
            "x": {"field": "i", "type": "quantitative", "scale": {"domain": [-0.125, 255.375], "nice": false, "zero": false, "padding": 0}},
            "y": {"field": "v", "type": "quantitative", "scale": {"domain": [-0.3, 101.6], "nice": false, "zero": false, "padding": 0}},
            "text": {"field": "t"}
          }
        },
        {
          "data": {"values": [{"t": "W", "i": 223.6, "v": 41.2}]},
          "mark": {"type": "text", "align": "center", "baseline": "alphabetic", "fontSize": 35, "fontWeight": "bold", "color": "#1e1e1e", "font": "Liberation Serif"},
          "encoding": {
            "x": {"field": "i", "type": "quantitative", "scale": {"domain": [-0.125, 255.375], "nice": false, "zero": false, "padding": 0}},
            "y": {"field": "v", "type": "quantitative", "scale": {"domain": [-0.3, 101.6], "nice": false, "zero": false, "padding": 0}},
            "text": {"field": "t"}
          }
        },
        {
          "data": {"values": [{"i": 228.9, "v": 67.3, "i2": 226.6, "v2": 38.9}]},
          "mark": {"type": "rule", "color": "#e3212b", "strokeWidth": 3.5, "strokeCap": "round"},
          "encoding": {
            "x": {"field": "i", "type": "quantitative", "scale": {"domain": [-0.125, 255.375], "nice": false, "zero": false, "padding": 0}},
            "x2": {"field": "i2"},
            "y": {"field": "v", "type": "quantitative", "scale": {"domain": [-0.3, 101.6], "nice": false, "zero": false, "padding": 0}},
            "y2": {"field": "v2"}
          }
        },
        {
          "data": {"values": [{"t": "ebtrader", "i": 227.4, "v": 41.2}]},
          "mark": {"type": "text", "align": "left", "baseline": "alphabetic", "fontSize": 24, "color": "#e3212b", "font": "Liberation Sans"},
          "encoding": {
            "x": {"field": "i", "type": "quantitative", "scale": {"domain": [-0.125, 255.375], "nice": false, "zero": false, "padding": 0}},
            "y": {"field": "v", "type": "quantitative", "scale": {"domain": [-0.3, 101.6], "nice": false, "zero": false, "padding": 0}},
            "text": {"field": "t"}
          }
        }
      ]
    }
  ]
}
